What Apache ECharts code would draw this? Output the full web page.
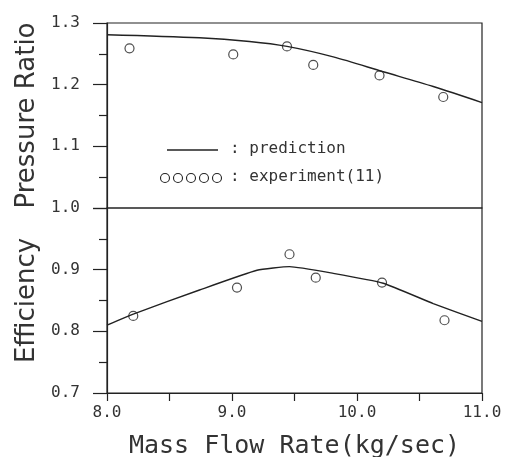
<!DOCTYPE html>
<html>
<head>
<meta charset="utf-8">
<script src="https://cdn.jsdelivr.net/npm/echarts@6/dist/echarts.min.js"></script>
<style>
  html, body { margin: 0; padding: 0; background: #fff; }
  #chart { width: 520px; height: 457px; }
</style>
</head>
<body>
<div id="chart"></div>
<script>
// prediction curves
var predX = [8.0, 8.74, 9.14, 9.44, 9.81, 10.21, 10.61, 11.0]
var predPR = [1.281, 1.276, 1.270, 1.262, 1.245, 1.221, 1.197, 1.171]
var predEffX = [8.0, 8.21, 8.74, 9.2, 9.46, 9.81, 10.21, 10.61, 11.0]
var predEff = [0.810, 0.828, 0.867, 0.899, 0.905, 0.894, 0.878, 0.845, 0.816]

// experiment(11)
var expPRX = [8.18, 9.01, 9.44, 9.65, 10.18, 10.69]
var expPR = [1.259, 1.249, 1.262, 1.232, 1.215, 1.180]
var expEffX = [8.21, 9.04, 9.46, 9.67, 10.2, 10.7]
var expEff = [0.825, 0.871, 0.925, 0.887, 0.879, 0.818]

var xTicks = [8, 9, 10, 11]

function pairs(xs, ys) {
    return xs.map(function (x, i) { return [x, ys[i]] })
}

var ink = "#222"
var mono = "DejaVu Sans Mono"
var sans = "DejaVu Sans"

var chart = echarts.init(document.getElementById("chart"))

var yCommon = {
    type: "value",
    interval: 0.1,
    axisLine: { show: true, lineStyle: { color: ink, width: 1.2 } },
    axisTick: { show: true, length: 14, lineStyle: { color: ink, width: 1.2 } },
    minorTick: { show: true, splitNumber: 2, length: 8, lineStyle: { color: ink, width: 1.2 } },
    splitLine: { show: false },
    axisLabel: {
        margin: 27, fontSize: 16, fontFamily: mono, color: "#333",
        formatter: function (v) { return v.toFixed(1) }
    },
    nameLocation: "middle",
    nameGap: 67,
    nameTextStyle: { fontSize: 26, fontFamily: sans, color: "#333" }
}

var option = {
    backgroundColor: "#fff",
    animation: false,
    grid: [
        { left: 107, right: 38, top: 23, height: 185, show: true, borderColor: ink, borderWidth: 1.2, outerBoundsMode: "none" },
        { left: 107, right: 38, top: 208, height: 185, show: true, borderColor: ink, borderWidth: 1.2, outerBoundsMode: "none" }
    ],
    xAxis: [
        {
            gridIndex: 0, type: "value", min: 8, max: 11, interval: 1,
            axisLine: { show: false }, axisTick: { show: false },
            axisLabel: { show: false }, splitLine: { show: false }
        },
        {
            gridIndex: 1, type: "value", min: 8, max: 11, interval: 1,
            axisLine: { show: true, lineStyle: { color: ink, width: 1.2 } },
            axisTick: { show: true, length: 8, lineStyle: { color: ink, width: 1.2 } },
            minorTick: { show: true, splitNumber: 2, length: 8, lineStyle: { color: ink, width: 1.2 } },
            splitLine: { show: false },
            axisLabel: {
                margin: 12, fontSize: 16, fontFamily: mono, color: "#333",
                formatter: function (v) { return xTicks.indexOf(v) >= 0 ? v.toFixed(1) : "" }
            },
            name: "Mass Flow Rate(kg/sec)",
            nameLocation: "middle",
            nameGap: 41,
            nameTextStyle: { fontSize: 25, fontFamily: mono, color: "#333" }
        }
    ],
    yAxis: [
        Object.assign({}, yCommon, { gridIndex: 0, min: 1.0, max: 1.3, name: "Pressure Ratio" }),
        Object.assign({}, yCommon, {
            gridIndex: 1, min: 0.7, max: 1.0, name: "Efficiency",
            axisLabel: Object.assign({}, yCommon.axisLabel, { showMaxLabel: false })
        })
    ],
    series: [
        {
            name: "prediction", type: "line", xAxisIndex: 0, yAxisIndex: 0,
            data: pairs(predX, predPR), smooth: 0.3, symbol: "none",
            lineStyle: { color: ink, width: 1.4 }
        },
        {
            name: "experiment(11)", type: "scatter", xAxisIndex: 0, yAxisIndex: 0,
            data: pairs(expPRX, expPR), symbol: "circle", symbolSize: 9,
            itemStyle: { color: "#fff", borderColor: ink, borderWidth: 1.2 }
        },
        {
            name: "prediction", type: "line", xAxisIndex: 1, yAxisIndex: 1,
            data: pairs(predEffX, predEff), smooth: 0.15, symbol: "none",
            lineStyle: { color: ink, width: 1.4 }
        },
        {
            name: "experiment(11)", type: "scatter", xAxisIndex: 1, yAxisIndex: 1,
            data: pairs(expEffX, expEff), symbol: "circle", symbolSize: 9,
            itemStyle: { color: "#fff", borderColor: ink, borderWidth: 1.2 }
        }
    ],
    // hand-drawn legend, like the original plot
    graphic: [
        { type: "line", shape: { x1: 167, y1: 150, x2: 218, y2: 150 }, style: { stroke: ink, lineWidth: 1.4 } },
        { type: "text", left: 230, top: 141, style: { text: ": prediction", fontSize: 16, fontFamily: mono, fill: "#333" } },
        { type: "circle", shape: { cx: 165, cy: 178, r: 4.5 }, style: { fill: "#fff", stroke: ink, lineWidth: 1.1 } },
        { type: "circle", shape: { cx: 178, cy: 178, r: 4.5 }, style: { fill: "#fff", stroke: ink, lineWidth: 1.1 } },
        { type: "circle", shape: { cx: 191, cy: 178, r: 4.5 }, style: { fill: "#fff", stroke: ink, lineWidth: 1.1 } },
        { type: "circle", shape: { cx: 204, cy: 178, r: 4.5 }, style: { fill: "#fff", stroke: ink, lineWidth: 1.1 } },
        { type: "circle", shape: { cx: 217, cy: 178, r: 4.5 }, style: { fill: "#fff", stroke: ink, lineWidth: 1.1 } },
        { type: "text", left: 230, top: 169, style: { text: ": experiment(11)", fontSize: 16, fontFamily: mono, fill: "#333" } }
    ]
}

chart.setOption(option)
</script>
</body>
</html>
